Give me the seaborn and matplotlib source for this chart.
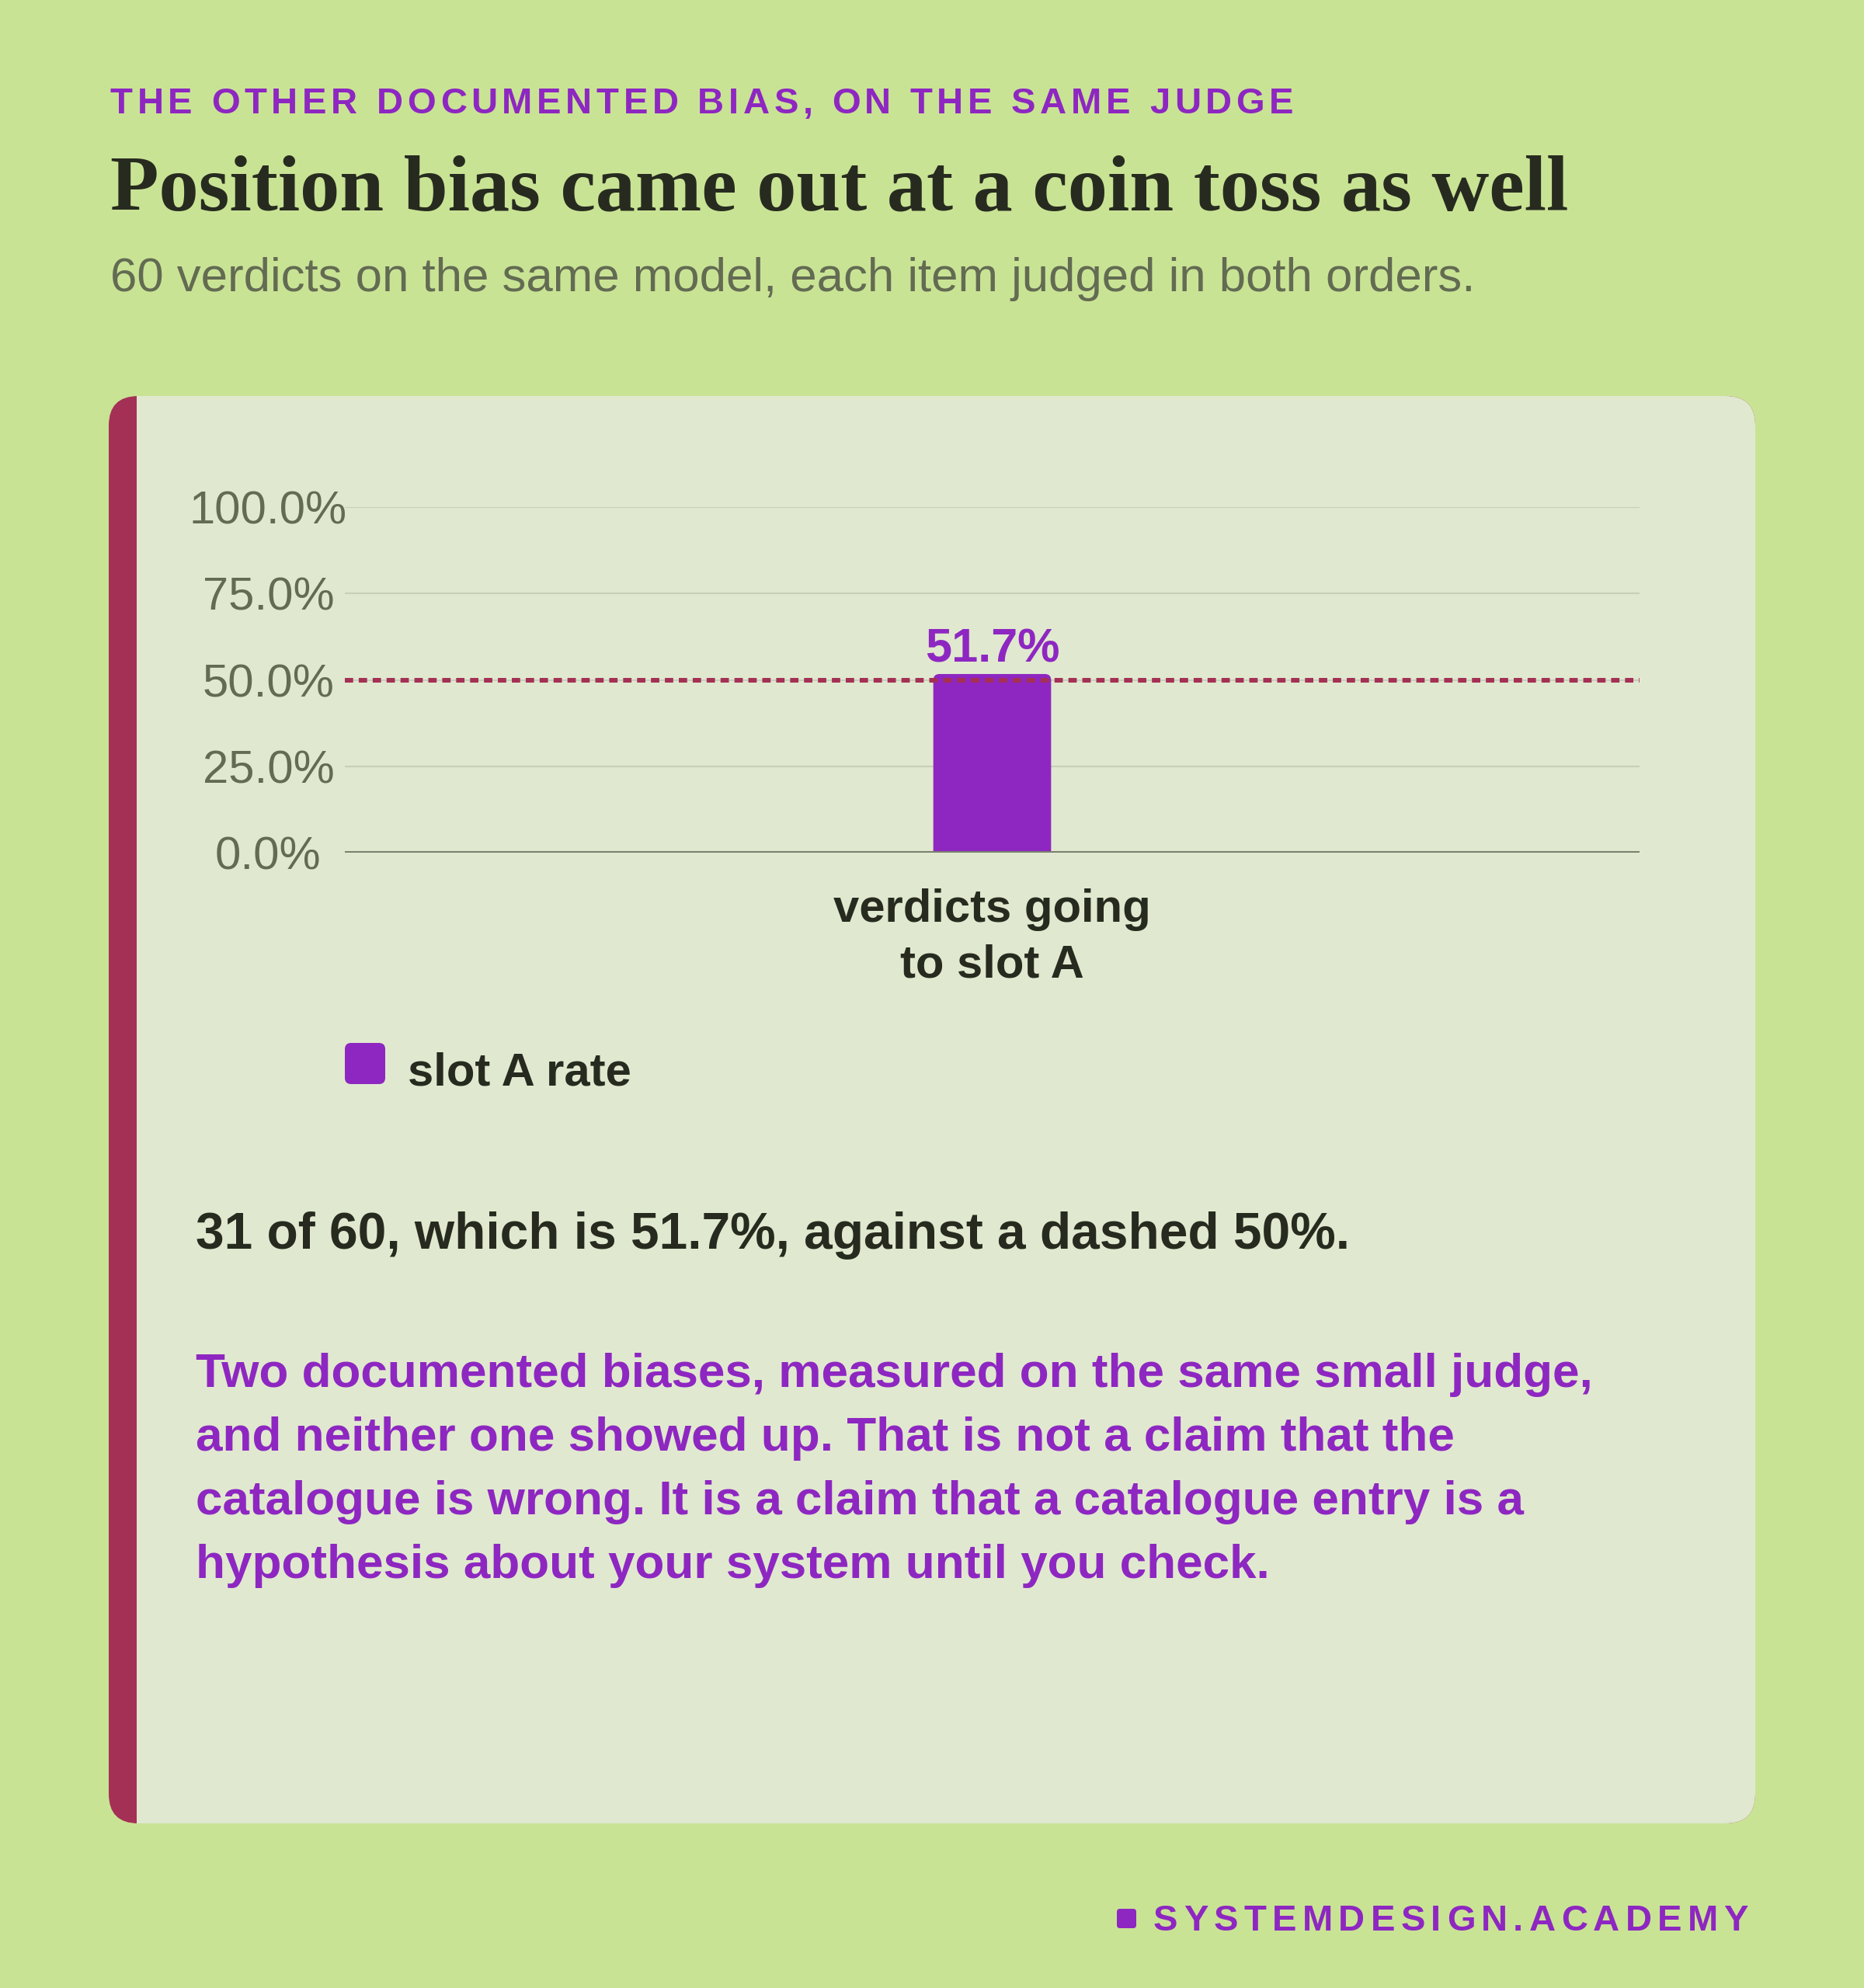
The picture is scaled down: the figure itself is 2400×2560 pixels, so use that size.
import pandas as pd
import seaborn as sns
import matplotlib.pyplot as plt
from matplotlib.patches import FancyBboxPatch, Rectangle

# chart values
categories = ["verdicts going\nto slot A"]
slot_a_rate = [51.7]          # percent of verdicts going to slot A (31 of 60)
coin_toss = 50                # dashed reference line
y_ticks = [0, 25, 50, 75, 100]
legend_label = "slot A rate"

kicker = "THE OTHER DOCUMENTED BIAS, ON THE SAME JUDGE"
title = "Position bias came out at a coin toss as well"
subtitle = "60 verdicts on the same model, each item judged in both orders."
finding = "31 of 60, which is 51.7%, against a dashed 50%."
takeaway = ["Two documented biases, measured on the same small judge,",
            "and neither one showed up. That is not a claim that the",
            "catalogue is wrong. It is a claim that a catalogue entry is a",
            "hypothesis about your system until you check."]
footer = "SYSTEMDESIGN.ACADEMY"

# colours
BG = "#C9E395"
CARD = "#E0E9CF"
ACCENT = "#A53055"
PURPLE = "#8E27C1"
DARK = "#272B1F"
GRAY = "#636B52"
GRID = "#C8CFB8"
AXIS = "#7B806D"

sns.set_style("white")
plt.rcParams['font.family'] = ['Liberation Sans', 'DejaVu Sans']

fig = plt.figure(figsize=(24, 25.6), dpi=100)
fig.patch.set_facecolor(BG)
r = fig.canvas.get_renderer()

# background axes in pixel units (y downwards)
bg = fig.add_axes([0, 0, 1, 1])
bg.set_xlim(0, 2400)
bg.set_ylim(2560, 0)
bg.axis('off')


def spaced_text(x0, x1, y, s, **kw):
    """letter-spaced text running from x0 to x1"""
    def w(t):
        tt = bg.text(0, 0, t, **kw)
        e = tt.get_window_extent(r).width
        tt.remove()
        return e
    sp = w("x x") - w("xx")
    widths = [sp if c == ' ' else w(c) for c in s]
    gap = ((x1 - x0) - sum(widths)) / (len(s) - 1)
    x = x0
    for c, cw in zip(s, widths):
        if c != ' ':
            bg.text(x, y, c, ha='left', va='baseline', **kw)
        x += cw + gap


def fit_width(t, target):
    size = t.get_fontsize()
    t.set_fontsize(size * target / t.get_window_extent(r).width)


# header
spaced_text(142, 1665, 146, kicker, fontsize=34, weight='bold', color=PURPLE)
t = bg.text(142, 270, title, fontsize=60, weight='bold', color=DARK,
            family=['Liberation Serif', 'DejaVu Serif'], va='baseline')
fit_width(t, 1878)
t = bg.text(142, 375, subtitle, fontsize=42, color=GRAY, va='baseline')
fit_width(t, 1760)

# card with accent edge
bg.add_patch(FancyBboxPatch((140, 510), 2120, 1838, boxstyle="round,pad=0,rounding_size=38",
                            fc=ACCENT, ec='none'))
bg.add_patch(FancyBboxPatch((176, 510), 2084, 1838, boxstyle="round,pad=0,rounding_size=38",
                            fc=CARD, ec='none'))
bg.add_patch(Rectangle((176, 510), 80, 1838, fc=CARD, ec='none'))

# chart
ax = fig.add_axes([444 / 2400, (2560 - 1098) / 2560, 1667 / 2400, 445 / 2560])
ax.set_facecolor('none')
df = pd.DataFrame({"category": categories, "rate": slot_a_rate})
sns.barplot(data=df, x="category", y="rate", color=PURPLE, saturation=1, width=0.091, ax=ax)
ax.set_xlim(-0.5, 0.5)
ax.set_ylim(0, 100)
ax.set_yticks(y_ticks)
ax.set_yticklabels([f"{v:.1f}%" for v in y_ticks])
for lab in ax.get_yticklabels():
    lab.set_horizontalalignment('center')
ax.tick_params(axis='y', length=0, pad=71, labelsize=43, labelcolor=GRAY)
ax.tick_params(axis='x', length=0, pad=33, labelsize=43, labelcolor=DARK)
for lab in ax.get_xticklabels():
    lab.set_fontweight('bold')
    lab.set_linespacing(1.38)
ax.set_xlabel("")
ax.set_ylabel("")
for s in ax.spines.values():
    s.set_visible(False)
ax.yaxis.grid(True, color=GRID, lw=1.5)
ax.set_axisbelow(True)
ax.axhline(0, color=AXIS, lw=2.9, zorder=2)

# round the bar top
bar = ax.patches[0]
x0, w, h = bar.get_x(), bar.get_width(), bar.get_height()
bar.remove()
ax.add_patch(FancyBboxPatch((x0, -5), w, h + 5, boxstyle="round,pad=0,rounding_size=0.0048",
                            mutation_aspect=375, fc=PURPLE, ec='none', zorder=1.5))
ax.annotate(f"{h:.1f}%", (x0 + w / 2, h), xytext=(0, 11), textcoords='offset points',
            ha='center', va='baseline', fontsize=44, weight='bold', color=PURPLE)
ax.axhline(coin_toss, color=ACCENT, lw=4.3, ls=(0, (1.8, 1.2)), zorder=3)

# legend
bg.add_patch(FancyBboxPatch((444, 1343), 52, 53, boxstyle="round,pad=0,rounding_size=8",
                            fc=PURPLE, ec='none'))
bg.text(525, 1397, legend_label, fontsize=43, weight='bold', color=DARK, va='baseline')

# notes
t = bg.text(252, 1608, finding, fontsize=47, weight='bold', color=DARK, va='baseline')
fit_width(t, 1486)
size = 44 * 1796 / 1770
for i, line in enumerate(takeaway):
    t = bg.text(252, 1786 + 82 * i, line, fontsize=44, weight='bold', color=PURPLE, va='baseline')
    if i == 0:
        fit_width(t, 1796)
        size = t.get_fontsize()
    else:
        t.set_fontsize(size)

# footer
bg.add_patch(FancyBboxPatch((1438, 2458), 25, 25, boxstyle="round,pad=0,rounding_size=4",
                            fc=PURPLE, ec='none'))
spaced_text(1485, 2251, 2486, footer, fontsize=34, weight='bold', color=PURPLE)

fig.savefig("out.png", dpi=100, facecolor=BG)
